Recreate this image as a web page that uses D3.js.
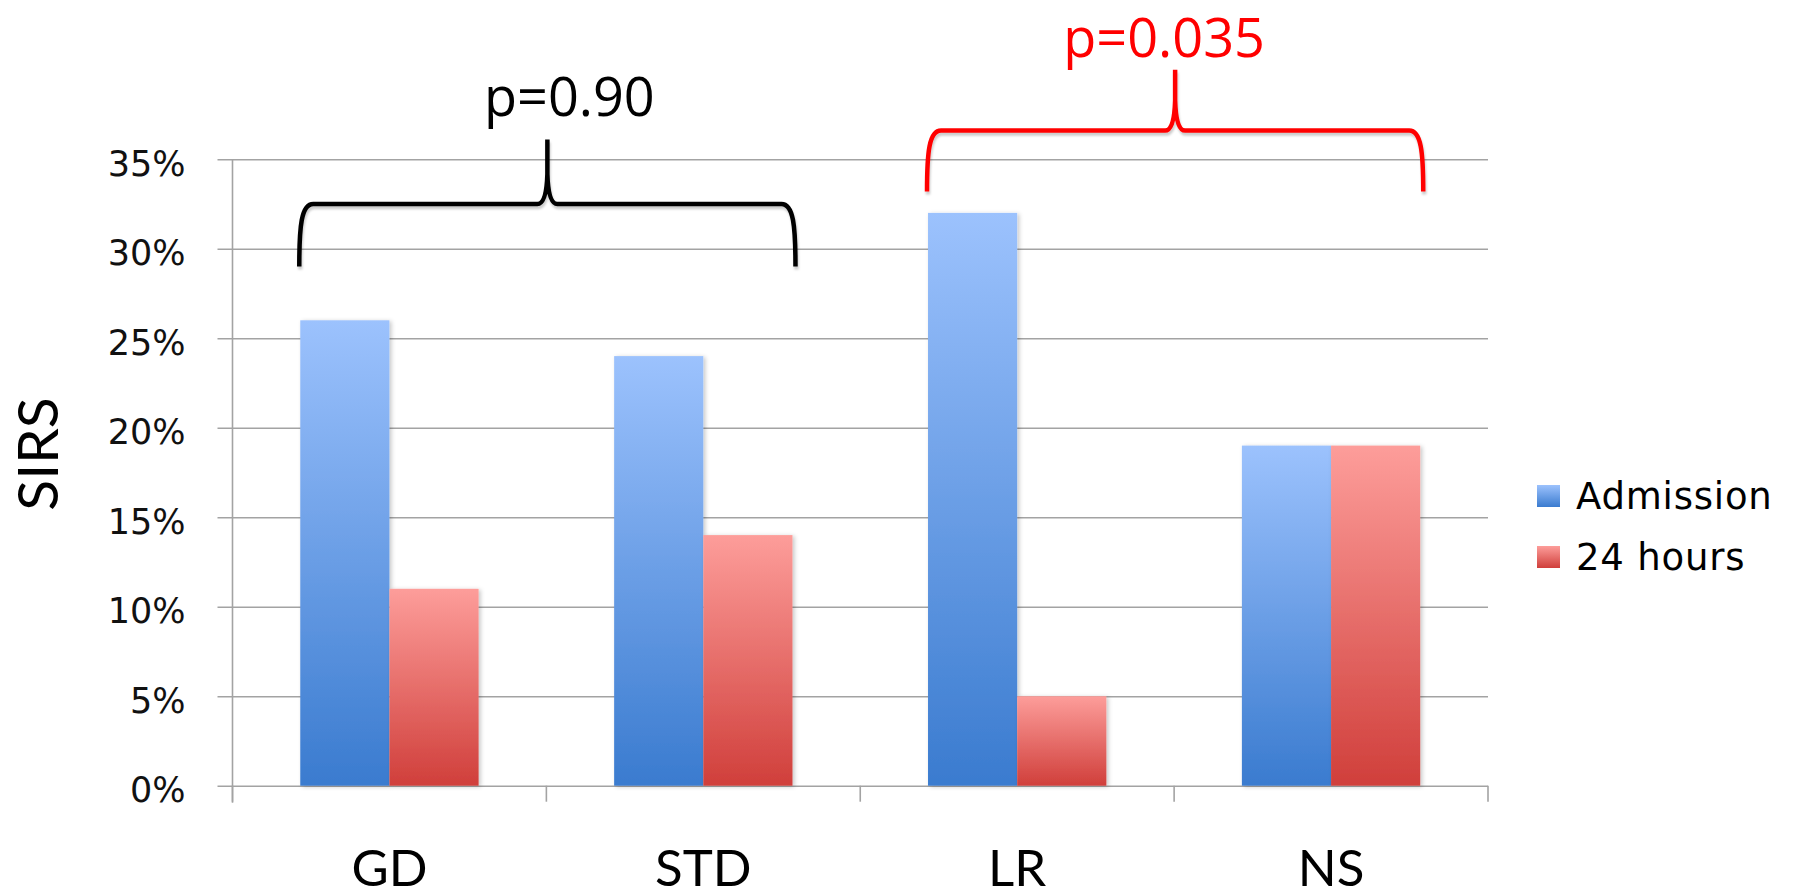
<!DOCTYPE html>
<html>
<head>
<meta charset="utf-8">
<script src="https://cdnjs.cloudflare.com/ajax/libs/d3/7.8.5/d3.min.js"></script>
<style>
  html, body { margin: 0; padding: 0; background: #fff; }
  svg { display: block; }
</style>
</head>
<body>
<svg id="chart" width="1798" height="896"></svg>
<script>
// SIRS rate at admission and after 24 hours, by resuscitation fluid group
const categories = ["GD", "STD", "LR", "NS"];
const seriesNames = ["Admission", "24 hours"];
const admission = [26, 24, 32, 19];
const hours24 = [11, 14, 5, 19];
const yTicks = [0, 5, 10, 15, 20, 25, 30, 35];
const yLabel = "SIRS";

// group comparisons shown as braces above the bars (levels in % units)
const pLabels = ["p=0.90", "p=0.035"];
const pPairs = [["GD", "STD"], ["LR", "NS"]];
const pColors = ["#000000", "#ff0000"];
const braceFoot = [29.0, 33.2];
const braceLevel = [32.5, 36.6];
const bracePeak = [36.1, 40.0];
const labelBaseline = [37.4, 40.7];
const labelShift = [22, -11];

const svg = d3.select("#chart");
const defs = svg.append("defs");

const plot = { left: 232.5, right: 1488, top: 159.2, bottom: 785.7 };

const x = d3.scaleBand().domain(categories).range([plot.left, plot.right]).padding(0);
const xs = d3.scaleBand().domain(seriesNames).range([0, x.bandwidth()]).paddingInner(0).paddingOuter(0.76);
const y = d3.scaleLinear().domain([0, 35]).range([plot.bottom, plot.top]);

// vertical gradients for each series
const grads = [
  { id: "g-adm", top: "#9cc2fd", bottom: "#3a7bcf" },
  { id: "g-24h", top: "#fd9d9a", bottom: "#d03f3b" }
];
grads.forEach(g => {
  const lg = defs.append("linearGradient").attr("id", g.id)
    .attr("x1", 0).attr("y1", 0).attr("x2", 0).attr("y2", 1);
  lg.append("stop").attr("offset", "0%").attr("stop-color", g.top);
  lg.append("stop").attr("offset", "100%").attr("stop-color", g.bottom);
});

const barShadow = defs.append("filter").attr("id", "bar-shadow")
  .attr("x", "-20%").attr("y", "-5%").attr("width", "140%").attr("height", "115%");
barShadow.append("feDropShadow").attr("dx", 2).attr("dy", 1).attr("stdDeviation", 2)
  .attr("flood-color", "#000").attr("flood-opacity", 0.22);

const braceShadow = defs.append("filter").attr("id", "brace-shadow")
  .attr("x", "-5%").attr("y", "-10%").attr("width", "110%").attr("height", "130%");
braceShadow.append("feDropShadow").attr("dx", 1).attr("dy", 3).attr("stdDeviation", 1)
  .attr("flood-color", "#000").attr("flood-opacity", 0.2);

// gridlines with short ticks on the left of the axis
const yAxis = d3.axisLeft(y).tickValues(yTicks)
  .tickSize(-(plot.right - plot.left))
  .tickFormat(d => d + "%");
const gy = svg.append("g").attr("transform", `translate(${plot.left},0)`).call(yAxis);
gy.select(".domain").remove();
gy.selectAll(".tick line").attr("x1", -15).attr("stroke", "#a3a3a3").attr("stroke-width", 1.6);
gy.selectAll(".tick text")
  .attr("x", -47).attr("dy", "16")
  .attr("font-family", "'DejaVu Sans', sans-serif").attr("font-size", 35)
  .attr("fill", "#111").attr("text-anchor", "end");

// vertical axis line
svg.append("line")
  .attr("x1", plot.left).attr("x2", plot.left)
  .attr("y1", plot.top).attr("y2", plot.bottom + 17)
  .attr("stroke", "#a3a3a3").attr("stroke-width", 1.6);

// category axis: boundary ticks below the baseline
const xBounds = categories.map(c => x(c)).concat([x(categories[categories.length - 1]) + x.bandwidth()]);
svg.append("g").selectAll("line").data(xBounds).join("line")
  .attr("x1", d => d).attr("x2", d => d)
  .attr("y1", plot.bottom).attr("y2", plot.bottom + 16)
  .attr("stroke", "#a3a3a3").attr("stroke-width", 1.6);

// bars
const rows = categories.map((c, i) => ({ cat: c, values: [admission[i], hours24[i]] }));
const groups = svg.append("g").selectAll("g").data(rows).join("g")
  .attr("transform", d => `translate(${x(d.cat)},0)`);
groups.selectAll("rect")
  .data(d => d.values.map((v, k) => ({ series: seriesNames[k], k, v })))
  .join("rect")
  .attr("x", d => xs(d.series))
  .attr("width", xs.bandwidth())
  .attr("y", d => y(d.v))
  .attr("height", d => y(0) - y(d.v))
  .attr("fill", d => `url(#${grads[d.k].id})`)
  .attr("filter", "url(#bar-shadow)");

// category labels
svg.append("g").selectAll("text").data(categories).join("text")
  .attr("x", d => x(d) + x.bandwidth() / 2)
  .attr("y", 886)
  .attr("text-anchor", "middle")
  .attr("font-family", "Lato, 'Open Sans', sans-serif")
  .attr("font-size", 51)
  .attr("fill", "#000")
  .text(d => d);

// y-axis title
svg.append("text")
  .attr("transform", "translate(58,454) rotate(-90)")
  .attr("text-anchor", "middle")
  .attr("font-family", "Lato, 'Open Sans', sans-serif")
  .attr("font-size", 57)
  .attr("fill", "#000")
  .text(yLabel);

// legend
const legend = svg.append("g");
seriesNames.forEach((name, k) => {
  const ly = 485 + k * 61;
  legend.append("rect").attr("x", 1537).attr("y", ly).attr("width", 23).attr("height", 22)
    .attr("fill", `url(#${grads[k].id})`);
  legend.append("text").attr("x", 1576).attr("y", ly + 24)
    .attr("font-family", "'DejaVu Sans', sans-serif").attr("font-size", 37)
    .attr("letter-spacing", 0.8)
    .attr("fill", "#000").text(name);
});

// comparison braces
function bracePath(x0, x1, yFoot, yLevel, yPeak) {
  const xc = (x0 + x1) / 2;
  const cusp = yLevel - 30;
  return [
    `M${x0},${yFoot}`,
    `C${x0},${yLevel + 22} ${x0 + 2},${yLevel} ${x0 + 14},${yLevel}`,
    `L${xc - 10},${yLevel}`,
    `Q${xc - 1},${yLevel} ${xc},${cusp}`,
    `L${xc},${yPeak}`,
    `M${xc},${cusp}`,
    `Q${xc + 1},${yLevel} ${xc + 10},${yLevel}`,
    `L${x1 - 14},${yLevel}`,
    `C${x1 - 2},${yLevel} ${x1},${yLevel + 22} ${x1},${yFoot}`
  ].join(" ");
}

pPairs.forEach((pair, i) => {
  const x0 = x(pair[0]) + xs(seriesNames[0]) - 1;
  const x1 = x(pair[1]) + xs(seriesNames[1]) + xs.bandwidth() + 3;
  svg.append("path")
    .attr("d", bracePath(x0, x1, y(braceFoot[i]), y(braceLevel[i]), y(bracePeak[i])))
    .attr("fill", "none")
    .attr("stroke", pColors[i])
    .attr("stroke-width", 4.5)
    .attr("stroke-linejoin", "round")
    .attr("filter", "url(#brace-shadow)");
  svg.append("text")
    .attr("x", (x0 + x1) / 2 + labelShift[i])
    .attr("y", y(labelBaseline[i]))
    .attr("text-anchor", "middle")
    .attr("font-family", "'Open Sans', 'Noto Sans', sans-serif")
    .attr("font-size", 54)
    .attr("fill", pColors[i])
    .text(pLabels[i]);
});
</script>
</body>
</html>
